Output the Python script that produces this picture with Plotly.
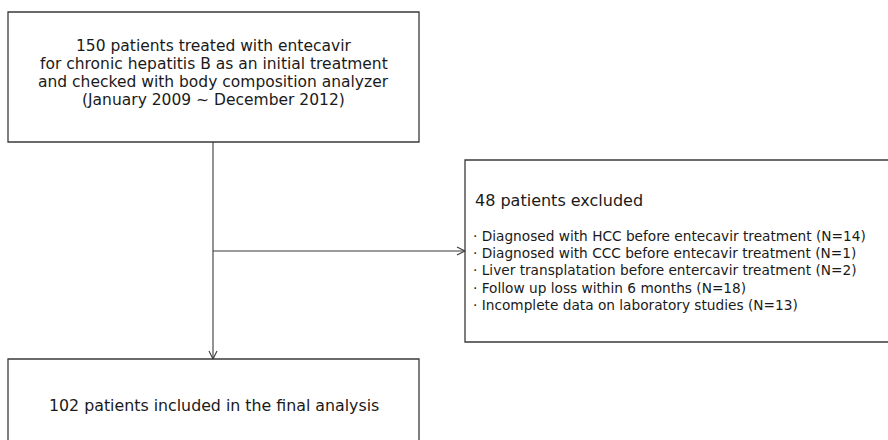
import plotly.graph_objects as go

# ---- content ----
top_lines = [
    "150 patients treated with entecavir",
    "for chronic hepatitis B as an initial treatment",
    "and checked with body composition analyzer",
    "(January 2009 ~ December 2012)",
]
excluded_title = "48 patients excluded"
excluded_reasons = [
    "Diagnosed with HCC before entecavir treatment",
    "Diagnosed with CCC before entecavir treatment",
    "Liver transplatation before entercavir treatment",
    "Follow up loss within 6 months",
    "Incomplete data on laboratory studies",
]
excluded_counts = [14, 1, 2, 18, 13]
final_text = "102 patients included in the final analysis"

# ---- layout geometry ----
W, H = 888, 440
LINE = "#3a3a3a"
TXT = "#1a1a1a"
FONT = "DejaVu Sans, Arial, sans-serif"

top_box = dict(x0=8, y0=12, x1=419, y1=142)
right_box = dict(x0=465, y0=160, x1=895, y1=342)
bottom_box = dict(x0=8, y0=359, x1=419, y1=450)
stem_x = 213
branch_y = 251

fig = go.Figure()

shapes = []
for b in (top_box, right_box, bottom_box):
    shapes.append(dict(type="rect", xref="x", yref="y", **b,
                       line=dict(color=LINE, width=1.3), fillcolor="rgba(0,0,0,0)"))
fig.update_layout(shapes=shapes)

# connectors
fig.add_trace(go.Scatter(x=[stem_x, stem_x], y=[top_box["y1"], bottom_box["y0"]],
                         mode="lines", line=dict(color=LINE, width=1.1),
                         hoverinfo="skip", showlegend=False))
fig.add_trace(go.Scatter(x=[stem_x, right_box["x0"]], y=[branch_y, branch_y],
                         mode="lines", line=dict(color=LINE, width=1.1),
                         hoverinfo="skip", showlegend=False))
# arrow heads (open chevrons)
ah = 8
aw = 4
fig.add_trace(go.Scatter(x=[stem_x - aw, stem_x, stem_x + aw],
                         y=[bottom_box["y0"] - ah, bottom_box["y0"], bottom_box["y0"] - ah],
                         mode="lines", line=dict(color=LINE, width=1.1),
                         hoverinfo="skip", showlegend=False))
fig.add_trace(go.Scatter(x=[right_box["x0"] - ah, right_box["x0"], right_box["x0"] - ah],
                         y=[branch_y - aw, branch_y, branch_y + aw],
                         mode="lines", line=dict(color=LINE, width=1.1),
                         hoverinfo="skip", showlegend=False))

annotations = []
# top box text
cx = (top_box["x0"] + top_box["x1"]) / 2
for i, t in enumerate(top_lines):
    annotations.append(dict(x=cx, y=46 + i * 18, text=t, showarrow=False,
                            xanchor="center", yanchor="middle",
                            borderpad=0, borderwidth=0,
                            font=dict(family=FONT, size=15.5, color=TXT)))
# excluded box
annotations.append(dict(x=474, y=200, text=excluded_title, showarrow=False,
                        xanchor="left", yanchor="middle", borderpad=0,
                        font=dict(family=FONT, size=16, color=TXT)))
for i, (r, n) in enumerate(zip(excluded_reasons, excluded_counts)):
    annotations.append(dict(x=473, y=236 + i * 17.2, text=f"· {r} (N={n})",
                            showarrow=False, xanchor="left", yanchor="middle",
                            borderpad=0, borderwidth=0,
                            font=dict(family=FONT, size=13.7, color=TXT)))
# bottom box
annotations.append(dict(x=cx, y=405.5, text=final_text, showarrow=False,
                        xanchor="center", yanchor="middle", borderpad=0,
                        font=dict(family=FONT, size=15.8, color=TXT)))

fig.update_layout(
    annotations=annotations,
    width=W, height=H,
    margin=dict(l=0, r=0, t=0, b=0),
    paper_bgcolor="white", plot_bgcolor="white",
    xaxis=dict(range=[0, W], visible=False, fixedrange=True),
    yaxis=dict(range=[H, 0], visible=False, fixedrange=True),
    showlegend=False,
)

fig.write_html("out.html",
               config={"displayModeBar": False},
               post_script="document.body.style.margin='0px';document.body.style.overflow='hidden';")
